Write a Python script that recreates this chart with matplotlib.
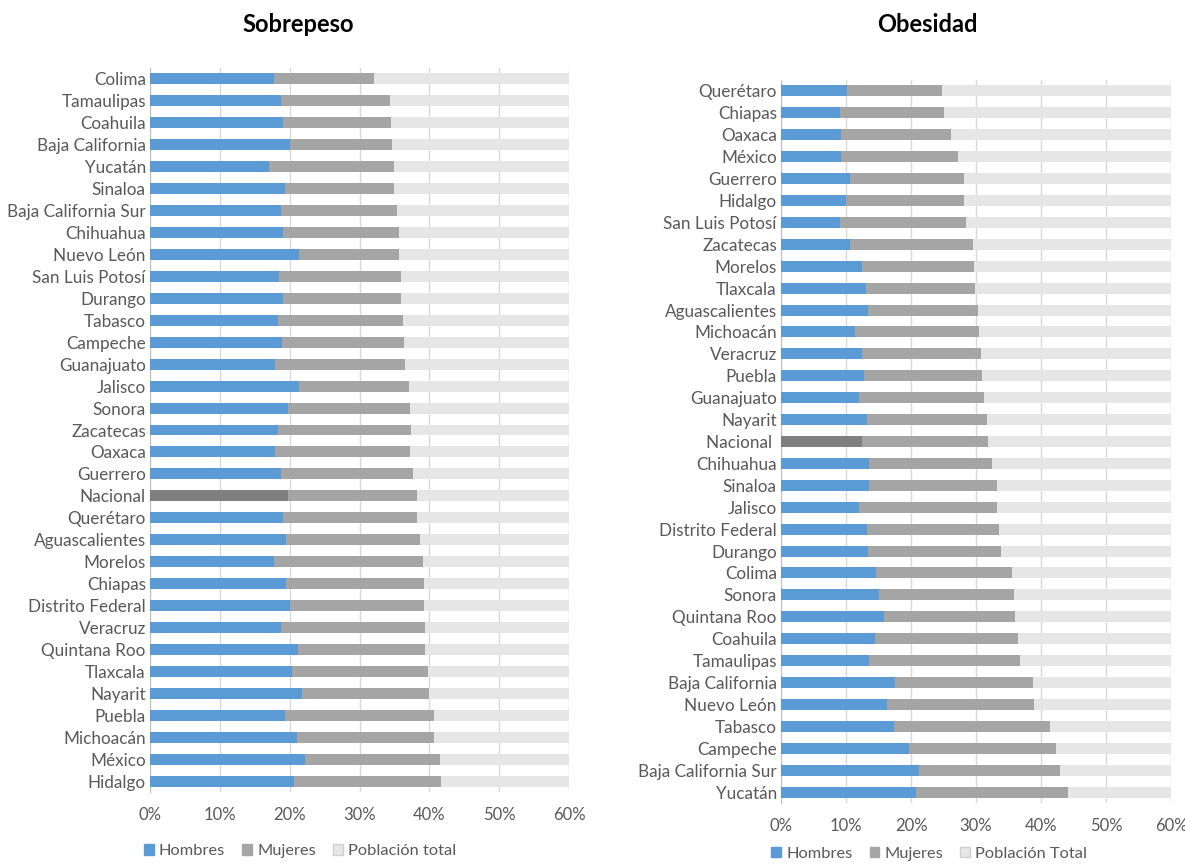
import matplotlib
matplotlib.use("Agg")
import matplotlib.pyplot as plt
from matplotlib.patches import Patch

plt.rcParams['font.family'] = ['Lato', 'DejaVu Sans']

# ---------------- Sobrepeso (top to bottom) ----------------
sob_states = ["Colima", "Tamaulipas", "Coahuila", "Baja California", "Yucatán", "Sinaloa",
              "Baja California Sur", "Chihuahua", "Nuevo León", "San Luis Potosí", "Durango",
              "Tabasco", "Campeche", "Guanajuato", "Jalisco", "Sonora", "Zacatecas", "Oaxaca",
              "Guerrero", "Nacional", "Querétaro", "Aguascalientes", "Morelos", "Chiapas",
              "Distrito Federal", "Veracruz", "Quintana Roo", "Tlaxcala", "Nayarit", "Puebla",
              "Michoacán", "México", "Hidalgo"]
sob_hombres = [17.7, 18.8, 19.0, 20.0, 17.0, 19.3, 18.8, 19.0, 21.3, 18.5, 19.1,
               18.4, 18.9, 17.9, 21.3, 19.8, 18.4, 17.9, 18.7, 19.8, 19.0, 19.5,
               17.7, 19.5, 20.1, 18.7, 21.2, 20.4, 21.8, 19.3, 21.1, 22.2, 20.6]
sob_mujeres_end = [32.1, 34.4, 34.5, 34.7, 34.9, 35.0, 35.3, 35.6, 35.7, 35.9, 35.9,
                   36.2, 36.4, 36.5, 37.1, 37.3, 37.4, 37.3, 37.6, 38.2, 38.3, 38.7,
                   39.1, 39.3, 39.3, 39.4, 39.4, 39.8, 39.9, 40.6, 40.7, 41.5, 41.7]

# ---------------- Obesidad (top to bottom) ----------------
obe_states = ["Querétaro", "Chiapas", "Oaxaca", "México", "Guerrero", "Hidalgo",
              "San Luis Potosí", "Zacatecas", "Morelos", "Tlaxcala", "Aguascalientes",
              "Michoacán", "Veracruz", "Puebla", "Guanajuato", "Nayarit", "Nacional ",
              "Chihuahua", "Sinaloa", "Jalisco", "Distrito Federal", "Durango", "Colima",
              "Sonora", "Quintana Roo", "Coahuila", "Tamaulipas", "Baja California",
              "Nuevo León", "Tabasco", "Campeche", "Baja California Sur", "Yucatán"]
obe_hombres = [10.1, 9.0, 9.2, 9.2, 10.6, 10.0, 9.0, 10.6, 12.4, 13.1, 13.4,
               11.4, 12.5, 12.7, 12.0, 13.2, 12.5, 13.6, 13.6, 12.0, 13.2, 13.4,
               14.6, 15.1, 15.9, 14.5, 13.6, 17.5, 16.3, 17.4, 19.7, 21.3, 20.8]
obe_mujeres_end = [24.8, 25.0, 26.2, 27.2, 28.2, 28.2, 28.5, 29.6, 29.7, 29.9, 30.3,
                   30.4, 30.7, 30.9, 31.3, 31.7, 31.9, 32.5, 33.2, 33.3, 33.5, 33.9,
                   35.6, 35.8, 36.0, 36.5, 36.7, 38.7, 38.9, 41.4, 42.3, 42.9, 44.1]

xticks = [0, 10, 20, 30, 40, 50, 60]
xticklabels = ["0%", "10%", "20%", "30%", "40%", "50%", "60%"]

C_BLUE = "#5B9BD5"
C_GRAY = "#A5A5A5"
C_LIGHT = "#E7E6E6"
C_NAC = "#7F7F7F"
TXT = "#595959"

fig = plt.figure(figsize=(11.85, 8.65), dpi=100)
ax1 = fig.add_axes([150/1185, 1-792/865, 419/1185, (792-68)/865])
ax2 = fig.add_axes([781/1185, 1-803/865, 390/1185, (803-80)/865])

def draw(ax, states, hom, muj_end, total_label, leg_x, leg_y):
    n = len(states)
    ys = list(range(n))
    xmax = 60
    hcolors = [C_NAC if s.strip() == "Nacional" else C_BLUE for s in states]
    muj_w = [m - h for m, h in zip(muj_end, hom)]
    tot_w = [xmax - m for m in muj_end]
    ax.barh(ys, hom, height=0.5, color=hcolors, zorder=3)
    ax.barh(ys, muj_w, left=hom, height=0.5, color=C_GRAY, zorder=3)
    ax.barh(ys, tot_w, left=muj_end, height=0.5, color=C_LIGHT, zorder=3)
    ax.set_xlim(0, xmax)
    ax.set_ylim(n - 0.5, -0.5)
    ax.set_yticks(ys)
    ax.set_yticklabels(states, fontsize=12.3, color=TXT)
    ax.set_xticks(xticks)
    ax.set_xticklabels(xticklabels, fontsize=12, color=TXT)
    ax.tick_params(axis='y', length=0, pad=3)
    ax.tick_params(axis='x', length=0, pad=11)
    ax.grid(axis='x', color="#D9D9D9", linewidth=1, zorder=0)
    for sp in ["top", "right", "bottom"]:
        ax.spines[sp].set_visible(False)
    ax.spines["left"].set_color("#BFBFBF")
    handles = [Patch(color=C_BLUE, label="Hombres"),
               Patch(color=C_GRAY, label="Mujeres"),
               Patch(facecolor=C_LIGHT, edgecolor="#D0D0D0", label=total_label)]
    ax.legend(handles=handles, loc='center', bbox_to_anchor=(leg_x, leg_y),
              ncol=3, frameon=False, fontsize=11.8, handlelength=0.6, handleheight=0.6,
              handletextpad=0.3, columnspacing=1.05, labelcolor=TXT)

draw(ax1, sob_states, sob_hombres, sob_mujeres_end, "Población total", 0.358, -0.082)
draw(ax2, obe_states, obe_hombres, obe_mujeres_end, "Población Total", 0.38, -0.07)

fig.text(298/1185, 1-24/865, "Sobrepeso", ha='center', va='center', fontsize=17, fontweight='bold')
fig.text(927/1185, 1-24/865, "Obesidad", ha='center', va='center', fontsize=17, fontweight='bold')

fig.savefig("out.png", dpi=100, facecolor='white')
